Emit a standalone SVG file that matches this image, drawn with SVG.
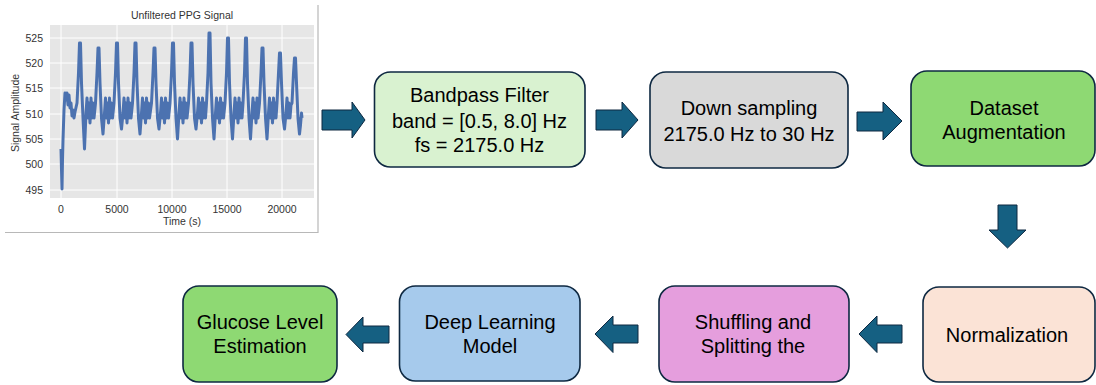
<svg xmlns="http://www.w3.org/2000/svg" width="1096" height="385" viewBox="0 0 1096 385">
<style>
.box{stroke:#0e2841;stroke-width:1.6}
.lbl{font-family:"Liberation Sans",Arial,sans-serif;font-size:20px;fill:#000;text-anchor:middle}
.arr{fill:#156082;stroke:#0e2841;stroke-width:1}
.ax{font-family:"Liberation Sans",Arial,sans-serif;font-size:10.5px;fill:#333}
.grid{stroke:#ffffff;stroke-width:1}
</style>
<rect width="1096" height="385" fill="#ffffff"/>
<g id="chart">
  <rect x="50" y="25" width="264" height="173" fill="#e6e6e6"/>
  <g class="grid">
    <line x1="61" y1="25" x2="61" y2="198"/>
    <line x1="117" y1="25" x2="117" y2="198"/>
    <line x1="172" y1="25" x2="172" y2="198"/>
    <line x1="227" y1="25" x2="227" y2="198"/>
    <line x1="282" y1="25" x2="282" y2="198"/>
    <line x1="50" y1="38" x2="314" y2="38"/>
    <line x1="50" y1="63" x2="314" y2="63"/>
    <line x1="50" y1="88" x2="314" y2="88"/>
    <line x1="50" y1="114" x2="314" y2="114"/>
    <line x1="50" y1="139" x2="314" y2="139"/>
    <line x1="50" y1="164" x2="314" y2="164"/>
    <line x1="50" y1="190" x2="314" y2="190"/>
  </g>
  <path fill="none" stroke="#4c72b0" stroke-width="3" stroke-linejoin="round" d="M61 149 L61.5 170 L62 189 L62.5 160 L63 140 L64 110 L65 93 L66 100 L67 93 L68 105 L69 95 L70 108 L71 103 L72 116 L73 110 L74 118 L75 112 L77 103
  L78.5 73 L79.5 43 L80.5 43 L81.5 83 L83 118 L84.5 149 L86 113 L87 98 L88 118 L89 103 L90 123 L91 98 L92 118 L93 103 L94 118 L95.5 103
  L97 73 L98 48 L99 48 L100 83 L101.5 118 L103 134 L104.5 113 L105.5 98 L106.5 118 L107.5 103 L108.5 123 L109.5 98 L110.5 118 L111.5 103 L112.5 118 L114 103
  L115.5 73 L116.5 43 L117.5 43 L118.5 83 L120 118 L121.5 129 L123 113 L124 98 L125 118 L126 103 L127 123 L128 98 L129 118 L130 103 L131 118 L132.5 103
  L134 73 L135 43 L136 43 L137 83 L138.5 118 L140 134 L141.5 113 L142.5 98 L143.5 118 L144.5 103 L145.5 123 L146.5 98 L147.5 118 L148.5 103 L149.5 118 L151.5 103
  L153 73 L154 48 L155 48 L156 83 L157.5 118 L159 129 L160.5 113 L161.5 98 L162.5 118 L163.5 103 L164.5 123 L165.5 98 L166.5 118 L167.5 103 L168.5 118 L170 103
  L171.5 73 L172.5 43 L173.5 43 L174.5 83 L176 118 L177.5 139 L179 113 L180 98 L181 118 L182 103 L183 123 L184 98 L185 118 L186 103 L187 118 L188.5 103
  L190 73 L191 43 L192 43 L193 83 L194.5 118 L196 129 L197.5 113 L198.5 98 L199.5 118 L200.5 103 L201.5 123 L202.5 98 L203.5 118 L204.5 103 L205.5 118 L206.5 103
  L208 73 L209 33 L210 33 L211 83 L212.5 118 L214 139 L215.5 113 L216.5 98 L217.5 118 L218.5 103 L219.5 123 L220.5 98 L221.5 118 L222.5 103 L223.5 118 L225 103
  L226.5 73 L227.5 38 L228.5 38 L229.5 83 L231 118 L232.5 139 L234 113 L235 98 L236 118 L237 103 L238 123 L239 98 L240 118 L241 103 L242 118 L243 103
  L244.5 73 L245.5 38 L246.5 38 L247.5 83 L249 118 L250.5 139 L252 113 L253 98 L254 118 L255 103 L256 123 L257 98 L258 118 L259.5 103
  L261 73 L262 48 L263 48 L264 83 L265.5 118 L267 139 L268.5 113 L269.5 98 L270.5 118 L271.5 103 L272.5 123 L273.5 98 L274.5 118 L275.5 103 L276 118 L277 103
  L278.5 73 L279.5 53 L280.5 53 L281.5 83 L283 118 L284.5 129 L286 113 L287 98 L288 118 L289 103 L290 118 L291 105 L292 103
  L293.5 73 L294.5 58 L295.5 58 L296.5 83 L298 118 L299.5 134 L300.5 125 L301.5 113 L302 118"/>
  <text class="ax" x="182" y="19" text-anchor="middle" font-size="11">Unfiltered PPG Signal</text>
  <g class="ax" text-anchor="end">
    <text x="43" y="42">525</text>
    <text x="43" y="67">520</text>
    <text x="43" y="92">515</text>
    <text x="43" y="118">510</text>
    <text x="43" y="143">505</text>
    <text x="43" y="168">500</text>
    <text x="43" y="194">495</text>
  </g>
  <g class="ax" text-anchor="middle">
    <text x="61" y="213">0</text>
    <text x="117" y="213">5000</text>
    <text x="172" y="213">10000</text>
    <text x="227" y="213">15000</text>
    <text x="282" y="213">20000</text>
  </g>
  <text class="ax" x="182" y="225" text-anchor="middle" font-size="11">Time (s)</text>
  <text class="ax" transform="translate(19 113) rotate(-90)" text-anchor="middle" font-size="11.5">Signal Amplitude</text>
  <path d="M318 5 V232.5 H5" fill="none" stroke="#b8b8b8" stroke-width="1.2"/>
</g>
<g id="connectors">
  <path class="arr" d="M322 110 H352 V102 L365 120 L352 138 V130 H322 Z"/>
  <path class="arr" d="M596 110 H622 V102 L638 120 L622 138 V130 H596 Z"/>
  <path class="arr" d="M857 112 H883 V102 L902 121 L883 140 V131 H857 Z"/>
  <path class="arr" d="M998 205 H1017 V230 H1026 L1007.5 248 L989 230 H998 Z"/>
  <path class="arr" d="M902 325 H877 V316 L859 334 L877 352.5 V343 H902 Z"/>
  <path class="arr" d="M638 325 H613 V316 L595 334 L613 352.5 V343 H638 Z"/>
  <path class="arr" d="M389 326 H363 V317 L346 334.5 L363 352 V343 H389 Z"/>
</g>
<g id="bandpass">
  <rect class="box" x="374.5" y="72" width="210.5" height="95" rx="16" fill="#d9f2d0"/>
  <text class="lbl" x="479.5" y="102">Bandpass Filter</text>
  <text class="lbl" x="479.5" y="128">band = [0.5, 8.0] Hz</text>
  <text class="lbl" x="479.5" y="152">fs = 2175.0 Hz</text>
</g>
<g id="downsampling">
  <rect class="box" x="650" y="72" width="198" height="96" rx="16" fill="#d9d9d9"/>
  <text class="lbl" x="749" y="115">Down sampling</text>
  <text class="lbl" x="749" y="141">2175.0 Hz to 30 Hz</text>
</g>
<g id="augmentation">
  <rect class="box" x="911" y="71" width="184" height="95" rx="16" fill="#8ed973"/>
  <text class="lbl" x="1004" y="115">Dataset</text>
  <text class="lbl" x="1004" y="139">Augmentation</text>
</g>
<g id="normalization">
  <rect class="box" x="923" y="287" width="172" height="95" rx="16" fill="#fbe3d6"/>
  <text class="lbl" x="1007" y="342">Normalization</text>
</g>
<g id="shuffling">
  <rect class="box" x="659" y="286" width="190" height="96" rx="16" fill="#e59edd"/>
  <text class="lbl" x="753" y="329">Shuffling and</text>
  <text class="lbl" x="753" y="353">Splitting the</text>
</g>
<g id="deeplearning">
  <rect class="box" x="399.5" y="286" width="180.5" height="95" rx="16" fill="#a6caec"/>
  <text class="lbl" x="490" y="329">Deep Learning</text>
  <text class="lbl" x="490" y="353">Model</text>
</g>
<g id="glucose">
  <rect class="box" x="183" y="286" width="154" height="96" rx="16" fill="#8ed973"/>
  <text class="lbl" x="260" y="329">Glucose Level</text>
  <text class="lbl" x="260" y="353">Estimation</text>
</g>
</svg>
